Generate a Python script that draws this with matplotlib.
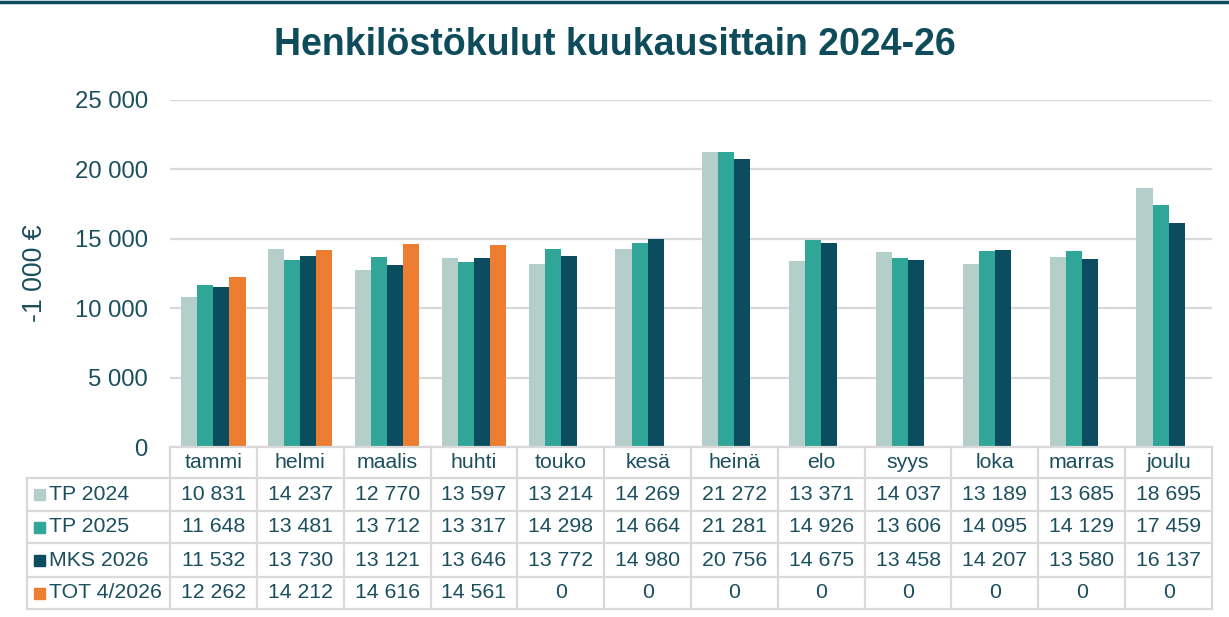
import numpy as np
import matplotlib.pyplot as plt
from matplotlib.patches import Rectangle
import matplotlib.transforms as mtransforms

months = ["tammi", "helmi", "maalis", "huhti", "touko", "kesä",
          "heinä", "elo", "syys", "loka", "marras", "joulu"]
series_names = ["TP 2024", "TP 2025", "MKS 2026", "TOT 4/2026"]
tp2024 = [10831, 14237, 12770, 13597, 13214, 14269, 21272, 13371, 14037, 13189, 13685, 18695]
tp2025 = [11648, 13481, 13712, 13317, 14298, 14664, 21281, 14926, 13606, 14095, 14129, 17459]
mks2026 = [11532, 13730, 13121, 13646, 13772, 14980, 20756, 14675, 13458, 14207, 13580, 16137]
tot2026 = [12262, 14212, 14616, 14561, 0, 0, 0, 0, 0, 0, 0, 0]
colors = ["#B4CFCA", "#30A699", "#0B4C5F", "#ED7D31"]

TXT = "#1A4F5E"
GRID = "#D9D9D9"

def fmt(v):
    return "{:,}".format(v).replace(",", " ")

plt.rcParams['font.family'] = ['Liberation Sans', 'DejaVu Sans']

W, H = 1229, 617
fig = plt.figure(figsize=(W / 100, H / 100), dpi=100)

# plot area in pixels
left, right, top, bottom = 170, 1212, 100, 447
ax = fig.add_axes([left / W, 1 - bottom / H, (right - left) / W, (bottom - top) / H])

data = [tp2024, tp2025, mks2026, tot2026]
x = np.arange(len(months))
bw = 0.185
for i, (vals, c) in enumerate(zip(data, colors)):
    ax.bar(x + (i - 1.5) * bw, vals, width=bw, color=c, linewidth=0, zorder=3)

ax.set_xlim(-0.5, len(months) - 0.5)
ax.set_ylim(0, 25000)
ax.set_yticks(range(0, 25001, 5000))
ax.set_yticklabels([fmt(v) for v in range(0, 25001, 5000)])
ax.tick_params(axis='y', length=0, pad=16, labelsize=17.2, labelcolor=TXT)
ax.tick_params(axis='x', length=0, labelbottom=False)
ax.grid(axis='y', color=GRID, linewidth=1.6, zorder=0)
for s in ax.spines.values():
    s.set_visible(False)

fig.text(35 / W, 1 - 273 / H, "-1 000 €", rotation=90, ha='center', va='center',
         fontsize=19.3, color=TXT)

fig.suptitle("Henkilöstökulut kuukausittain 2024-26", fontsize=27,
             fontweight='bold', color="#0E4C5C", y=1 - 45 / H, va='center')

# top line
fig.add_artist(plt.Line2D([0, 1], [1 - 1.5 / H, 1 - 1.5 / H], color="#0B4C5F",
                          linewidth=2.5, transform=fig.transFigure))

# data table below the axes
trans = mtransforms.blended_transform_factory(ax.transData, fig.transFigure)
ftrans = fig.transFigure
row_edges = [447, 478, 511, 543, 577, 609]
fy = [1 - r / H for r in row_edges]
lw = 1.6

# horizontal lines
fig.add_artist(plt.Line2D([left / W, right / W], [fy[0], fy[0]], color=GRID, lw=lw))
for r in fy[1:]:
    fig.add_artist(plt.Line2D([27 / W, right / W], [r, r], color=GRID, lw=lw))
# vertical lines
for i in range(len(months) + 1):
    xb = -0.5 + i
    fig.add_artist(plt.Line2D([xb, xb], [fy[0], fy[-1]], color=GRID, lw=lw,
                              transform=trans))
fig.add_artist(plt.Line2D([27 / W, 27 / W], [fy[1], fy[-1]], color=GRID, lw=lw))

# header labels
fs = 15.3
ymid = (fy[0] + fy[1]) / 2
for i, m in enumerate(months):
    fig.text(i, ymid, m, transform=trans, ha='center', va='center',
             fontsize=fs, color=TXT)

# rows
for r, (name, vals, c) in enumerate(zip(series_names, data, colors)):
    ym = (fy[r + 1] + fy[r + 2]) / 2
    fig.add_artist(Rectangle((34 / W, ym - 5.5 / H), 11 / W, 11 / H,
                             color=c, transform=ftrans))
    fig.text(49 / W, ym, name, ha='left', va='center', fontsize=fs, color=TXT)
    for i, v in enumerate(vals):
        fig.text(i, ym, fmt(v), transform=trans, ha='center', va='center',
                 fontsize=fs, color=TXT)

fig.savefig("out.png", dpi=100)
